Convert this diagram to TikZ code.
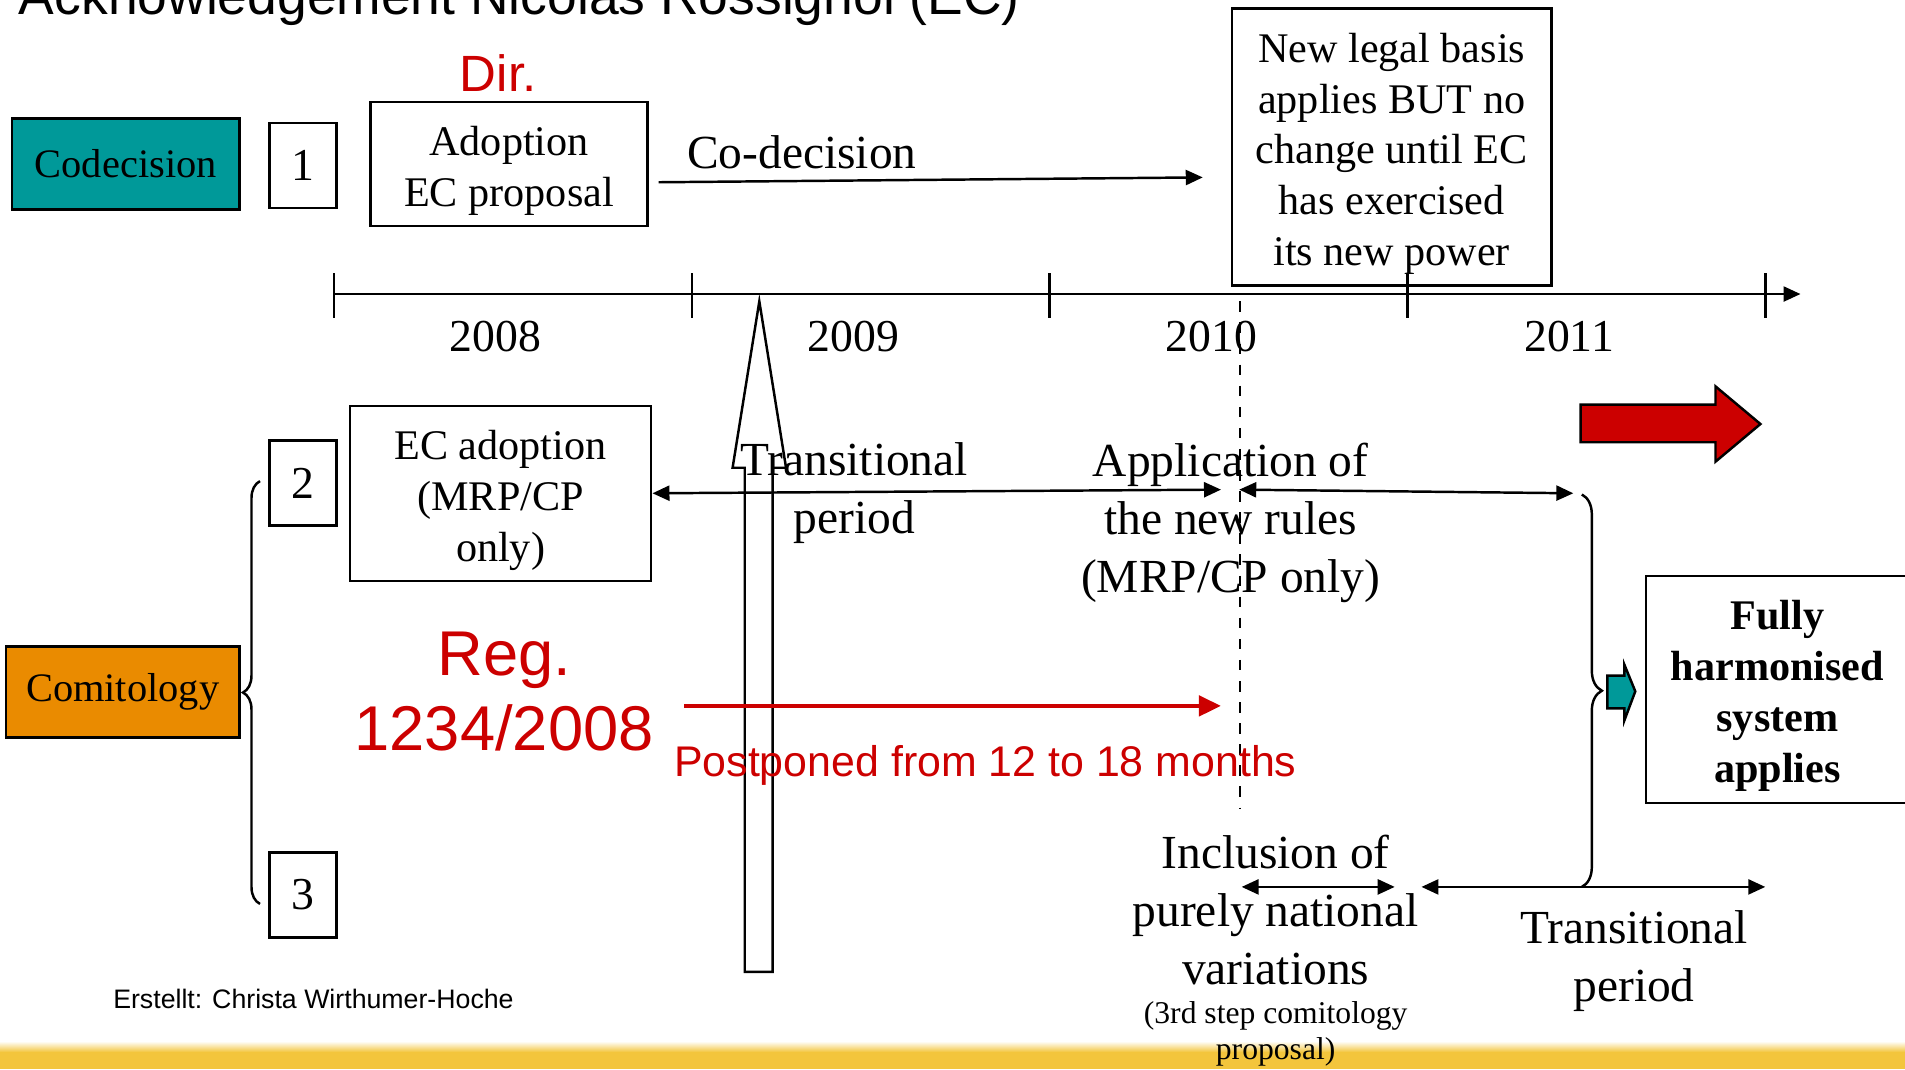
\documentclass[tikz,border=0pt]{standalone}
\usepackage{fontspec}
\setmainfont{Liberation Serif}
\setsansfont{Liberation Sans}
\usetikzlibrary{arrows.meta,decorations.pathreplacing}
\definecolor{codecteal}{RGB}{0,153,153}
\definecolor{comitorange}{RGB}{234,139,0}
\definecolor{regred}{RGB}{204,0,0}
\definecolor{bandyellow}{RGB}{243,197,60}
\newcommand{\topstrut}{\rule{0pt}{12.2pt}}

\begin{document}
\begin{tikzpicture}[x=0.01215cm, y=-0.01215cm,
    box/.style={rectangle, draw, line width=0.7pt, align=center, inner sep=2pt, font=\fontsize{12}{14.5}\selectfont},
    numbox/.style={box, minimum width=0.668cm, minimum height=0.85cm, font=\fontsize{13}{15}\selectfont},
    freetext/.style={align=center, inner sep=1pt, font=\fontsize{13.5}{16.5}\selectfont},
    redtext/.style={align=center, text=regred, inner sep=1pt},
    arrow/.style={-{Triangle[length=1.7mm, width=1.5mm]}, line width=0.7pt},
    dblarrow/.style={{Triangle[length=1.7mm, width=1.5mm]}-{Triangle[length=1.7mm, width=1.5mm]}, line width=0.7pt},
    redarrow/.style={-{Triangle[length=2.2mm, width=2mm]}, line width=1.3pt, regred},
    blockarrow/.style={line width=0.7pt}]

\useasboundingbox (0,0) rectangle (1568,880);
\clip (0,0) rectangle (1568,880);

% footer band
\shade[top color=white, bottom color=bandyellow] (0,857) rectangle (1568,866);
\fill[bandyellow] (0,866) rectangle (1568,880);

% heading, cut at the top
\node[anchor=base west, inner sep=0, font=\sffamily\fontsize{15.2}{17}\selectfont] (title) at (15,12) {Acknowledgement Nicolas Rossignol (EC)};

% codecision row
\node[box, fill=codecteal, minimum width=2.272cm, minimum height=0.911cm, font=\fontsize{11.5}{13}\selectfont] (codec) at (103.5,135) {Codecision};
\node[numbox] (one) at (249.5,136) {1};
\node[box, minimum width=2.77cm, minimum height=1.24cm] (adopt) at (419,135) {\topstrut Adoption\\EC proposal};
\node[redtext, font=\sffamily\fontsize{14.5}{16}\selectfont] (dir) at (410,60) {Dir.};
\node[freetext] (codeclbl) at (660,125) {Co-decision};
\coordinate (codecend) at (990,146);
\draw[arrow] ([shift={(8,15)}]adopt.east) -- (codecend);
\node[box, minimum width=3.195cm, minimum height=2.77cm] (legal) at (1145.5,121) {\topstrut New legal basis\\applies BUT no\\change until EC\\has exercised\\its new power};

% time line
\coordinate (tstart) at (275,242);
\coordinate (tend) at (1482,242);
\draw[arrow] (tstart) -- (tend);
\foreach \yr [count=\i from 0] in {2008,2009,2010,2011} {
  \draw[line width=0.7pt] (275+294.5*\i,225) -- (275+294.5*\i,262);
  \node[freetext, font=\fontsize{13}{15}\selectfont] (yr\yr) at (408+294.5*\i,277) {\yr};
}
\draw[line width=0.7pt] (1453,225) -- (1453,262);
\draw[dashed, line width=0.6pt] (1021,248) -- (1021,665);

% entry into force
\draw[blockarrow] (613,800) -- (613,385) -- (603,385) -- (625,248) -- (647,385) -- (636,385) -- (636,800) -- cycle;
\draw[blockarrow, fill=regred] (1301,333) -- (1412,333) -- (1412,318) -- (1449,349) -- (1412,380) -- (1412,364) -- (1301,364) -- cycle;

% comitology, step 2
\node[numbox] (two) at (249.5,397.5) {2};
\node[box, minimum width=3.013cm, minimum height=1.75cm] (ecadopt) at (412,406) {\topstrut EC adoption\\(MRP/CP\\only)};
\node[freetext] (trans) at (703,406) {Transitional\\period};
\node[freetext] (applic) at (1013,430) {Application of\\the new rules\\(MRP/CP only)};
\coordinate (append) at (1005,403);
\coordinate (appstart) at (1020,403);
\coordinate (applend) at (1295,406);
\draw[dblarrow] (ecadopt.east) -- (append);
\draw[dblarrow] (appstart) -- (applend);

\node[box, fill=comitorange, minimum width=2.333cm, minimum height=0.911cm, font=\fontsize{11.5}{13}\selectfont] (comit) at (101,569.5) {Comitology};
\draw[decorate, decoration={brace, amplitude=0.17cm}, line width=0.7pt] (214,744) -- (214,396);

\node[redtext, font=\sffamily\fontsize{18}{21.4}\selectfont] (reg) at (415,569) {Reg.\\1234/2008};
\coordinate (poststart) at (563,581);
\coordinate (postend) at (1005,581);
\draw[redarrow] (poststart) -- (postend);
\node[redtext, font=\sffamily\fontsize{12.2}{14}\selectfont] (postp) at (811,630) {Postponed from 12 to 18 months};

% comitology, step 3
\node[numbox] (three) at (249.5,736.5) {3};
\node[freetext] (incl) at (1050,749) {Inclusion of\\purely national\\variations};
\node[freetext, font=\fontsize{9}{10.5}\selectfont] (inclnote) at (1050,851) {(3rd step comitology\\proposal)};
\coordinate (ia) at (1022,730);
\coordinate (ib) at (1148,730);
\coordinate (tb) at (1170,730);
\coordinate (tc) at (1453,730);
\draw[dblarrow] (ia) -- (ib);
\draw[dblarrow] (tb) -- (tc);
\node[freetext] (trans2) at (1345,791) {Transitional\\period};

% end result
\draw[decorate, decoration={brace, amplitude=0.2cm}, line width=0.7pt] (1302,407) -- (1302,730);
\draw[blockarrow, fill=codecteal] (1323,556) -- (1337,556) -- (1337,547) -- (1346,569) -- (1337,593) -- (1337,583) -- (1323,583) -- cycle;
\node[box, minimum width=2.624cm, minimum height=2.272cm, font=\bfseries\fontsize{12}{14.5}\selectfont] (fully) at (1463,567.5) {\topstrut Fully\\harmonised\\system\\applies};

\node[inner sep=0, font=\sffamily\fontsize{7.6}{9}\selectfont] (made) at (258,822) {Erstellt: Christa Wirthumer-Hoche};

\end{tikzpicture}
\end{document}
